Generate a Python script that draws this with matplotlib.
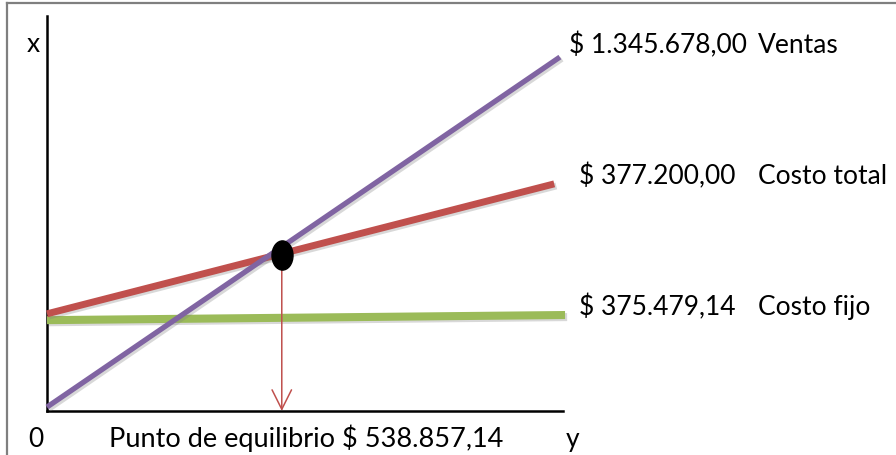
import matplotlib
matplotlib.use("Agg")
import matplotlib.pyplot as plt
import matplotlib.patheffects as pe
from matplotlib.path import Path
from matplotlib.transforms import Affine2D

plt.rcParams['font.family'] = ['Lato', 'DejaVu Sans']

# Schematic break-even chart (units are arbitrary, 0-100 on both axes)
ventas_x = [0, 99.4]
ventas_y = [1.0, 89.6]
total_x = [0, 98.3]
total_y = [24.6, 57.5]
fijo_x = [0, 100.4]
fijo_y = [23.0, 24.3]
equilibrio_x = 45.5
equilibrio_y = 39.5

etiquetas = ["$ 1.345.678,00", "$ 377.200,00", "$ 375.479,14"]
nombres = ["Ventas", "Costo total", "Costo fijo"]
punto_texto = "Punto de equilibrio $ 538.857,14"

PURPLE = '#8064A2'
RED = '#C0504D'
GREEN = '#9BBB59'

W, H = 896, 456
fig = plt.figure(figsize=(W / 100, H / 100), dpi=100)


def fx(x):
    return x / W


def fy(y):
    return 1 - y / H


# outer frame (only top and left edges visible)
fig.add_artist(plt.Line2D([fx(7), fx(7)], [fy(4), 0], color='#7f7f7f', lw=1.6))
fig.add_artist(plt.Line2D([fx(7), 1], [fy(4), fy(4)], color='#7f7f7f', lw=1.6))

ax = fig.add_axes([fx(47), fy(412), (563 - 47) / W, (412 - 17) / H])
ax.set_xlim(0, 100)
ax.set_ylim(0, 100)
ax.spines['top'].set_visible(False)
ax.spines['right'].set_visible(False)
for s in ('left', 'bottom'):
    ax.spines[s].set_linewidth(1.8)
    ax.spines[s].set_color('black')
ax.set_xticks([])
ax.set_yticks([])
ax.patch.set_alpha(0)

shadow = [pe.SimpleLineShadow(offset=(1.5, -1.5), shadow_color='gray', alpha=0.3), pe.Normal()]

ax.plot(fijo_x, fijo_y, color=GREEN, lw=5.8, solid_capstyle='butt',
        path_effects=shadow, clip_on=False, zorder=3)
ax.plot(total_x, total_y, color=RED, lw=5.0, solid_capstyle='butt',
        path_effects=shadow, clip_on=False, zorder=4)
ax.plot(ventas_x, ventas_y, color=PURPLE, lw=3.8, solid_capstyle='butt',
        path_effects=shadow, clip_on=False, zorder=5)

# arrow from the break-even point down to the x axis
ax.annotate('', xy=(equilibrio_x, 0), xytext=(equilibrio_x, equilibrio_y),
            arrowprops=dict(arrowstyle='->,head_length=1.4,head_width=0.7',
                            color=RED, lw=1.1, mutation_scale=10,
                            shrinkA=9, shrinkB=0),
            zorder=6, annotation_clip=False)

ellipse = Path.unit_circle().transformed(Affine2D().scale(0.72, 1.0))
ax.plot([equilibrio_x], [equilibrio_y], marker=ellipse, markersize=21,
        color='black', zorder=7, clip_on=False)

fs = 19
fig.text(fx(33), fy(52), 'x', fontsize=fs, ha='center', va='baseline')
fig.text(fx(36), fy(447), '0', fontsize=fs, ha='center', va='baseline')
fig.text(fx(109), fy(447), punto_texto, fontsize=fs + 0.5, ha='left', va='baseline')
fig.text(fx(573), fy(447), 'y', fontsize=fs, ha='center', va='baseline')

for lbl, nombre, (lx, by) in zip(etiquetas, nombres, [(569, 53), (579, 184), (579, 315)]):
    fig.text(fx(lx), fy(by), lbl, fontsize=fs, ha='left', va='baseline')
    fig.text(fx(758), fy(by), nombre, fontsize=fs, ha='left', va='baseline')

fig.savefig('out.png', dpi=100)
